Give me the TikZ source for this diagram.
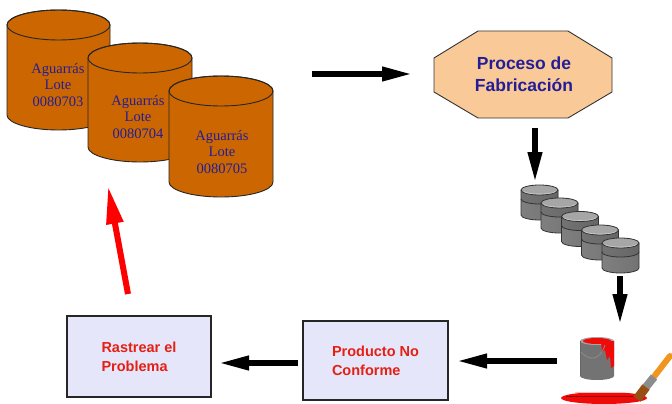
\documentclass[tikz,border=0pt]{standalone}
\usepackage{fontspec}
\setmainfont{Liberation Serif}
\setsansfont{Liberation Sans}
\usetikzlibrary{arrows.meta}

\definecolor{barrelfill}{RGB}{204,102,0}
\definecolor{navyink}{RGB}{35,30,150}
\definecolor{peach}{RGB}{250,201,152}
\definecolor{lav}{RGB}{230,230,250}
\definecolor{redink}{RGB}{228,32,20}
\definecolor{paintred}{RGB}{240,10,10}
\definecolor{brushorange}{RGB}{240,150,30}
\definecolor{brushbrown}{RGB}{150,80,20}

\tikzset{
  barrelbody/.style={fill=barrelfill, draw=black!85, line width=0.9pt},
  lotetext/.style={align=center, text=navyink, inner sep=0pt,
    font=\fontsize{14.5}{16.5}\selectfont},
  procbox/.style={draw=black!85, line width=1.6pt, fill=lav, align=left,
    text=redink, font=\sffamily\bfseries\fontsize{14.5}{19}\selectfont},
  fatarrow/.style={line width=6.5pt, black, -{Triangle[length=32pt,width=13pt]}},
  redarrow/.style={line width=6pt, red, -{Triangle[length=38pt,width=16pt]}},
  jarline/.style={draw=black!80, line width=0.8pt},
}

% brown barrel: centre x, x radius, top-ellipse y, bottom-ellipse y, y radius
\newcommand\lotebarrel[5]{%
  \filldraw[barrelbody] ({#1-#2},#3) -- ({#1-#2},#4)
    arc[start angle=180,end angle=360,x radius=#2pt,y radius=#5pt]
    -- ({#1+#2},#3)
    arc[start angle=0,end angle=180,x radius=#2pt,y radius=#5pt] -- cycle;
  \draw[barrelbody, fill=none] (#1,#3) ellipse[x radius=#2pt,y radius=#5pt];
}

% small grey container: left x, top y
\newcommand\greyjar[2]{%
  \shade[left color=black!50, middle color=black!8, right color=black!55]
    (#1,#2+5) -- (#1,#2+30)
    arc[start angle=180,end angle=360,x radius=18.5pt,y radius=5pt]
    -- (#1+37,#2+5) arc[start angle=0,end angle=180,x radius=18.5pt,y radius=5pt];
  \shade[left color=black!55, middle color=black!20, right color=black!60]
    (#1,#2+5) -- (#1,#2+14)
    arc[start angle=180,end angle=360,x radius=18.5pt,y radius=5pt]
    -- (#1+37,#2+5) arc[start angle=0,end angle=180,x radius=18.5pt,y radius=5pt];
  \draw[jarline] (#1,#2+14)
    arc[start angle=180,end angle=360,x radius=18.5pt,y radius=5pt];
  \draw[jarline] (#1,#2+5) -- (#1,#2+30)
    arc[start angle=180,end angle=360,x radius=18.5pt,y radius=5pt]
    -- (#1+37,#2+5);
  \filldraw[jarline, fill=black!35] (#1+18.5,#2+5) ellipse[x radius=18.5pt,y radius=5pt];
  \draw[black!20, line width=0.6pt] (#1+3,#2+6.5)
    arc[start angle=190,end angle=350,x radius=15.8pt,y radius=3pt];
}

\begin{document}
\begin{tikzpicture}[x=1pt,y=-1pt]
\useasboundingbox (0,0) rectangle (672,404);
\fill[white] (0,0) rectangle (672,404);

% --- lots of turpentine ---
\lotebarrel{58.5}{51.5}{25}{115}{15}
\node[lotetext] (lote1) at (58,85) {Aguarrás\\Lote\\0080703};
\lotebarrel{140}{52}{58}{147}{15}
\node[lotetext] (lote2) at (138,117) {Aguarrás\\Lote\\0080704};
\lotebarrel{221}{52}{91}{182}{15}
\node[lotetext] (lote3) at (222,152) {Aguarrás\\Lote\\0080705};

% --- manufacturing process ---
\filldraw[fill=peach, draw=black!80, line width=0.9pt]
  (478,31) -- (568,31) -- (612,58) -- (612,92) -- (568,118) -- (478,118)
  -- (434,92) -- (434,58) -- cycle;
\node[align=center, text=navyink, inner sep=0pt,
  font=\sffamily\bfseries\fontsize{17.5}{22}\selectfont]
  (fab) at (524,74) {Proceso de\\Fabricación};

% --- production batches ---
\greyjar{521}{185}
\greyjar{541}{198}
\greyjar{561.5}{211.5}
\greyjar{581.5}{225}
\greyjar{602}{238}

% --- paint can with spilled paint and brush ---
\fill[paintred] (604,398) ellipse[x radius=43pt,y radius=6pt];
\draw[red!60!black, line width=0.8pt] (566,396) -- (640,396);
\draw[red!25, line width=0.8pt] (575,392) -- (625,392);
\shade[left color=black!55, middle color=black!20, right color=black!55]
  (580,341) -- (580,376) arc[start angle=180,end angle=360,x radius=17pt,y radius=4pt]
  -- (614,341) -- cycle;
\fill[black!35] (597,341) ellipse[x radius=17pt,y radius=4pt];
\fill[paintred] (597,341) ellipse[x radius=14pt,y radius=3pt];
\fill[paintred] (601,342) -- (614,341) -- (614,366) -- (611,368) -- (610,356)
  -- (607,360) -- (605,350) -- (602,352) -- cycle;
\draw[black!45, line width=0.8pt] (581,352) .. controls (590,362) and (600,360) .. (605,345);
\draw[black!60, line width=0.6pt] (580,341) -- (580,376);
\draw[line width=6pt, brushorange, line cap=round] (653,378) -- (670,356);
\draw[line width=8pt, black!45] (646,387) -- (654,377);
\draw[line width=9pt, brushbrown] (637,399) -- (646,387);

% --- non-conforming product and tracing ---
\node[procbox, minimum width=145pt, minimum height=79pt] (producto)
  at (375.5,360.5) {Producto No\\Conforme};
\node[procbox, minimum width=144pt, minimum height=81pt] (rastrear)
  at (139,356.5) {Rastrear el\\Problema};

% --- flow arrows ---
\coordinate (a1s) at (312,74);
\coordinate (a1e) at (414,74);
\draw[fatarrow] (a1s) -- (a1e);

\coordinate (a2s) at (535,128);
\coordinate (a2e) at (535,184);
\draw[fatarrow] (a2s) -- (a2e);

\coordinate (a3s) at (620,276);
\coordinate (a3e) at (620,326);
\draw[fatarrow] (a3s) -- (a3e);

\coordinate (a4s) at (557,361);
\coordinate (a4e) at (455,361);
\draw[fatarrow] (a4s) -- (a4e);

\coordinate (a5s) at (298,363);
\coordinate (a5e) at (217,363);
\draw[fatarrow] (a5s) -- (a5e);

\coordinate (a6s) at (128,294);
\coordinate (a6e) at (108,186);
\draw[redarrow] (a6s) -- (a6e);
\end{tikzpicture}
\end{document}
